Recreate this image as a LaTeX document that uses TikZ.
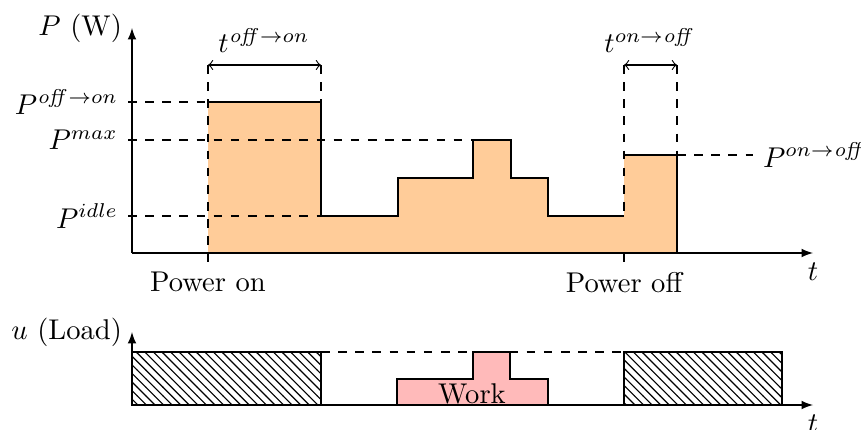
\documentclass[tikz,border=0pt]{standalone}
\usepackage{amssymb}
\usepackage{tikz}
\usetikzlibrary{patterns}

\begin{document}
\begin{tikzpicture}[x=0.35pt,y=0.35pt,yscale=-1,xscale=1]
%set diagram left start at 0, and has height of 430
\useasboundingbox (0,0) rectangle (861,430);

% Power profile
\fill[orange!40] (208,253) -- (208,102) -- (321,102) -- (321,216) -- (398,216) -- (398,178) -- (473,178) -- (473,140) -- (511,140) -- (511,178) -- (548,178) -- (548,216) -- (624,216) -- (624,155) -- (677,155) -- (677,253) -- cycle;
\draw (208,102) -- (321,102) -- (321,216) -- (398,216) -- (398,178) -- (473,178) -- (473,140) -- (511,140) -- (511,178) -- (548,178) -- (548,216) -- (624,216) ;
\draw (624,155) -- (677,155) -- (677,253) ;

% Load profile
\draw[pattern=north west lines] (132,352) rectangle (321,405) ;
\draw[pattern=north west lines] (624,352) rectangle (782,405) ;
\draw[fill=red!27] (397,405) -- (397,379) -- (473,379) -- (473,352) -- (510,352) -- (510,379) -- (548,379) -- (548,405) ;

% Axes
\coordinate (po) at (132,253) ;
\coordinate (pt) at (132,28) ;
\coordinate (px) at (813,253) ;
\coordinate (uo) at (132,405) ;
\coordinate (ut) at (132,332) ;
\coordinate (ux) at (813,405) ;
\draw[-latex] (po) -- (px) ;
\draw[-latex] (po) -- (pt) ;
\draw[-latex] (uo) -- (ux) ;
\draw[-latex] (uo) -- (ut) ;

% Text Node
\draw (pt) node[left] (plabel) {$P$ (W)};
% Text Node
\draw (ut) node[left] (ulabel) {$u$ (Load)};
% Text Node
\draw (px) node[below] (tp) {$t$};
% Text Node
\draw (ux) node[below] (tu) {$t$};
% Text Node
\draw (128,102) node[anchor=east] (poffon) {$P^{\mathit{off}\to on}$};
% Text Node
\draw (128,140) node[anchor=east] (pmax) {$P^{max}$};
% Text Node
\draw (128,216) node[anchor=east] (pidle) {$P^{idle}$};
% Text Node
\draw (753,155) node[anchor=west] (ponoff) {$P^{on\to \mathit{off}}$};
% Text Node
\draw (264,53) node[anchor=base] (toffon) {$t^{\mathit{off}\to on}$};
% Text Node
\draw (650,53) node[anchor=base] (tonoff) {$t^{on\to \mathit{off}}$};
% Text Node
\draw (208,262) node[below] (pwron) {Power on};
% Text Node
\draw (624,262) node[below] (pwroff) {Power off};
% Text Node
\draw (472,403) node[anchor=base] (work) {Work};

% Connection
\draw[dashed] (poffon.east) -- (208,102) ;
% Connection
\draw[dashed] (pmax.east) -- (473,140) ;
% Connection
\draw[dashed] (pidle.east) -- (321,216) ;
% Connection
\draw[dashed] (677,155) -- (ponoff.west) ;

% Connection
\draw[dashed] (208,65) -- (pwron.north) ;
% Connection
\draw[dashed] (321,65) -- (321,102) ;
% Connection
\draw[dashed] (624,65) -- (624,216) ;
% Connection
\draw[dashed] (677,65) -- (677,155) ;
% Connection
\draw (624,253) -- (pwroff.north) ;

% Connection
\draw[<->] (208,65) -- (321,65) ;
% Connection
\draw[<->] (624,65) -- (677,65) ;

% Connection
\draw[dashed] (321,352) -- (624,352) ;

\end{tikzpicture}
\end{document}
